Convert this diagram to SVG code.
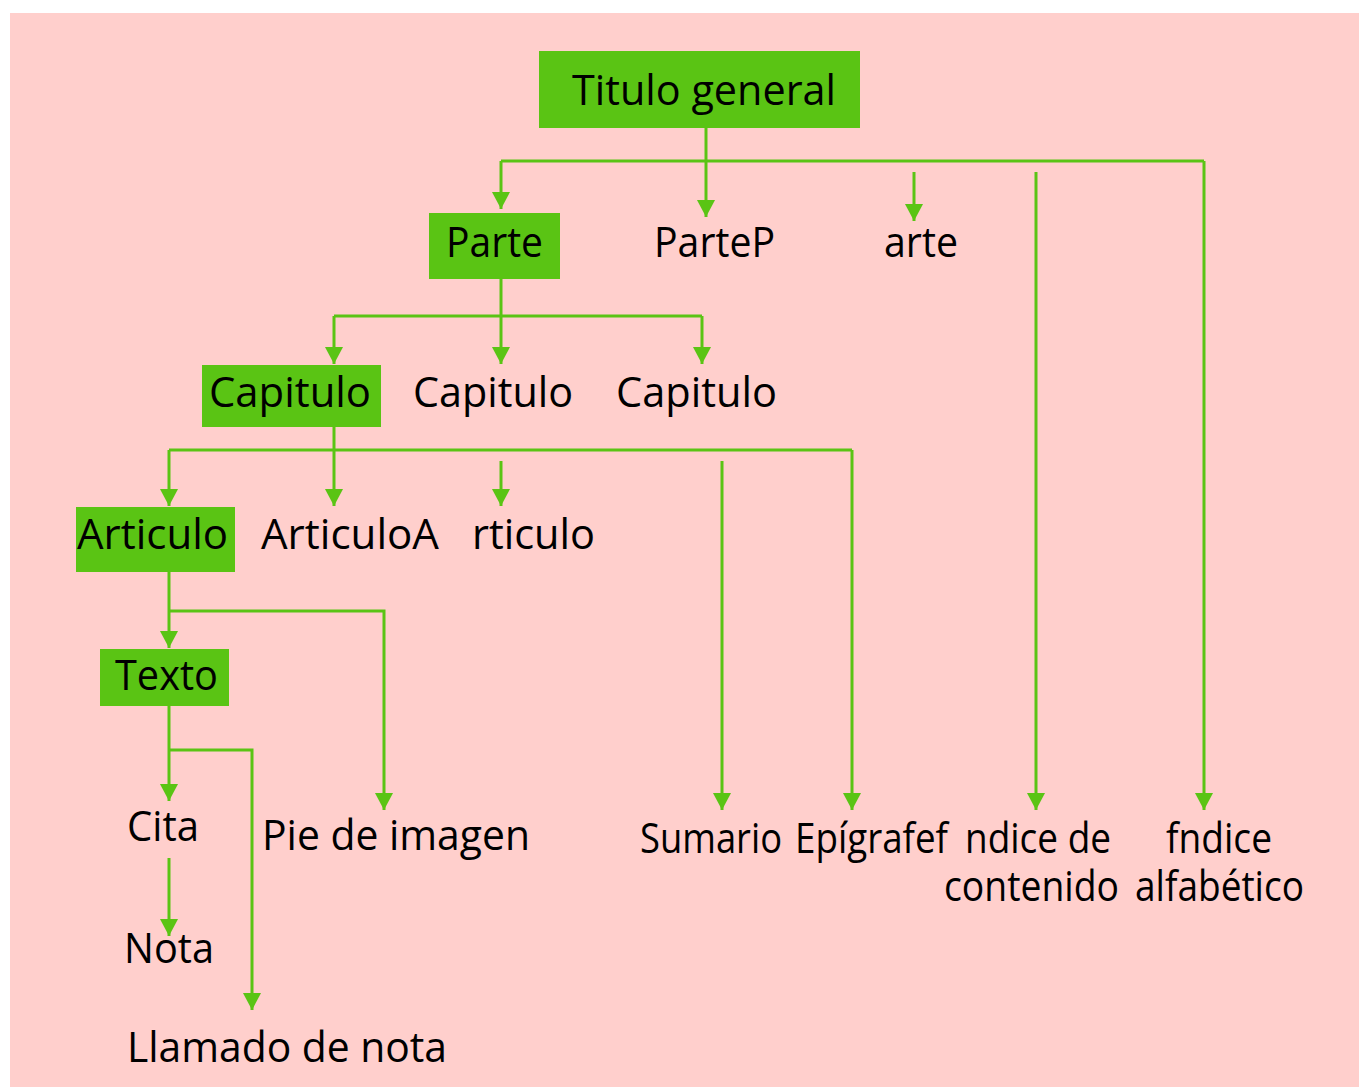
<svg xmlns="http://www.w3.org/2000/svg" width="1359" height="1087" viewBox="0 0 1359 1087">
<style>
.bg{fill:#FFCFCC}
.box{fill:#5AC414}
.t{font-family:"Open Sans","Liberation Sans",sans-serif;font-size:42px;fill:#000}
.c{fill:none;stroke:#5AC414;stroke-width:3}
.a{marker-end:url(#ah)}
</style>
<defs>
<marker id="ah" markerUnits="userSpaceOnUse" viewBox="0 0 17 18" refX="17" refY="9" markerWidth="17" markerHeight="18" orient="auto">
<path d="M0,0 L17,9 L0,18 z" fill="#5AC414"/>
</marker>
</defs>
<rect class="bg" x="10" y="13" width="1349" height="1074"/>
<g id="connectors">
<path class="c" d="M706,128 V161"/>
<path class="c" d="M501,161 H1204"/>
<path class="c a" d="M501,161 V209"/>
<path class="c a" d="M706,161 V217"/>
<path class="c a" d="M914,172 V221"/>
<path class="c a" d="M1036,172 V810"/>
<path class="c a" d="M1204,161 V810"/>
<path class="c" d="M501,279 V316"/>
<path class="c" d="M334,316 H702"/>
<path class="c a" d="M334,316 V364"/>
<path class="c a" d="M501,316 V364"/>
<path class="c a" d="M702,316 V364"/>
<path class="c" d="M334,427 V450"/>
<path class="c" d="M169,450 H852"/>
<path class="c a" d="M169,450 V506"/>
<path class="c a" d="M334,450 V506"/>
<path class="c a" d="M501,461 V506"/>
<path class="c a" d="M722,461 V810"/>
<path class="c a" d="M852,450 V810"/>
<path class="c a" d="M169,572 V648"/>
<path class="c a" d="M169,611 H384 V810"/>
<path class="c a" d="M169,706 V801"/>
<path class="c a" d="M169,750 H252 V1010"/>
<path class="c a" d="M169,858 V936"/>
</g>
<g id="titulo"><rect class="box" x="539" y="51" width="321" height="77"/><text class="t" x="572" y="105" textLength="264" lengthAdjust="spacingAndGlyphs">Titulo general</text></g>
<g id="parte"><rect class="box" x="429" y="213" width="131" height="66"/><text class="t" x="446" y="257" textLength="97" lengthAdjust="spacingAndGlyphs">Parte</text></g>
<g id="parteP"><text class="t" x="654" y="257" textLength="121" lengthAdjust="spacingAndGlyphs">ParteP</text></g>
<g id="arte"><text class="t" x="884" y="257" textLength="74" lengthAdjust="spacingAndGlyphs">arte</text></g>
<g id="capitulo1"><rect class="box" x="202" y="365" width="179" height="62"/><text class="t" x="209" y="407" textLength="162" lengthAdjust="spacingAndGlyphs">Capitulo</text></g>
<g id="capitulo2"><text class="t" x="413" y="407" textLength="160" lengthAdjust="spacingAndGlyphs">Capitulo</text></g>
<g id="capitulo3"><text class="t" x="616" y="407" textLength="161" lengthAdjust="spacingAndGlyphs">Capitulo</text></g>
<g id="articulo1"><rect class="box" x="76" y="507" width="159" height="65"/><text class="t" x="77" y="549" textLength="151" lengthAdjust="spacingAndGlyphs">Articulo</text></g>
<g id="articuloA"><text class="t" x="261" y="549" textLength="178" lengthAdjust="spacingAndGlyphs">ArticuloA</text></g>
<g id="rticulo"><text class="t" x="472" y="549" textLength="123" lengthAdjust="spacingAndGlyphs">rticulo</text></g>
<g id="texto"><rect class="box" x="100" y="649" width="129" height="57"/><text class="t" x="115" y="690" textLength="103" lengthAdjust="spacingAndGlyphs">Texto</text></g>
<g id="cita"><text class="t" x="127" y="841" textLength="72" lengthAdjust="spacingAndGlyphs">Cita</text></g>
<g id="nota"><text class="t" x="124" y="963" textLength="90" lengthAdjust="spacingAndGlyphs">Nota</text></g>
<g id="llamado"><text class="t" x="127" y="1062" textLength="320" lengthAdjust="spacingAndGlyphs">Llamado de nota</text></g>
<g id="pie"><text class="t" x="262" y="850" textLength="268" lengthAdjust="spacingAndGlyphs">Pie de imagen</text></g>
<g id="sumario"><text class="t" x="640" y="853" textLength="142" lengthAdjust="spacingAndGlyphs">Sumario</text></g>
<g id="epigrafe"><text class="t" x="795" y="853" textLength="153" lengthAdjust="spacingAndGlyphs">Epígrafef</text></g>
<g id="indice-contenido"><text class="t" x="965" y="853" textLength="146" lengthAdjust="spacingAndGlyphs">ndice de</text><text class="t" x="944" y="901" textLength="175" lengthAdjust="spacingAndGlyphs">contenido</text></g>
<g id="indice-alfabetico"><text class="t" x="1166" y="853" textLength="106" lengthAdjust="spacingAndGlyphs">fndice</text><text class="t" x="1135" y="901" textLength="169" lengthAdjust="spacingAndGlyphs">alfabético</text></g>
</svg>
